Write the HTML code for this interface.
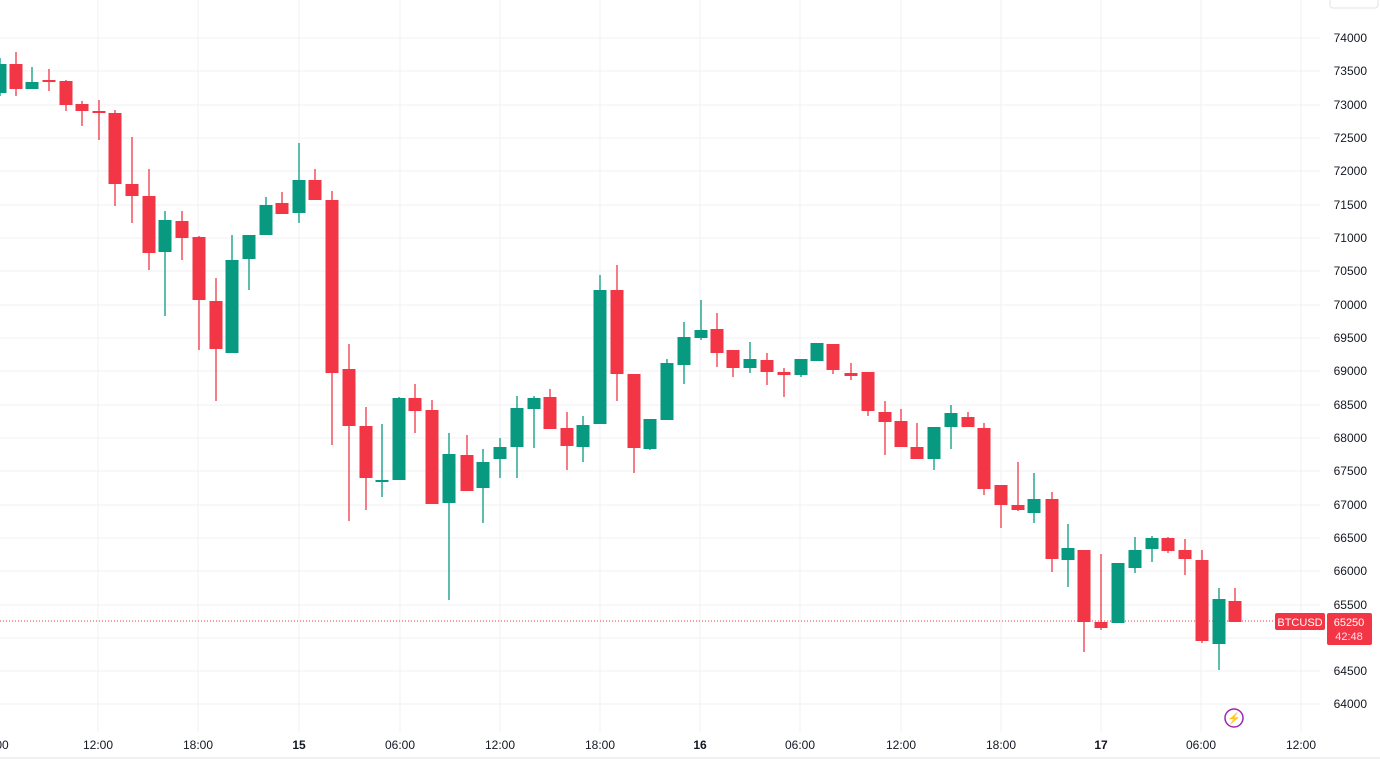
<!DOCTYPE html>
<html><head><meta charset="utf-8"><style>
html,body{margin:0;padding:0;background:#fff;}
svg{display:block;font-family:"Liberation Sans",sans-serif;}
</style></head><body>
<svg width="1380" height="775" viewBox="0 0 1380 775" xmlns="http://www.w3.org/2000/svg">
<rect width="1380" height="775" fill="#fff"/>
<g stroke="#f0f2f6" stroke-width="1">
<line x1="0" y1="38" x2="1320" y2="38"/><line x1="0" y1="71" x2="1320" y2="71"/><line x1="0" y1="105" x2="1320" y2="105"/><line x1="0" y1="138" x2="1320" y2="138"/><line x1="0" y1="171" x2="1320" y2="171"/><line x1="0" y1="205" x2="1320" y2="205"/><line x1="0" y1="238" x2="1320" y2="238"/><line x1="0" y1="271" x2="1320" y2="271"/><line x1="0" y1="305" x2="1320" y2="305"/><line x1="0" y1="338" x2="1320" y2="338"/><line x1="0" y1="371" x2="1320" y2="371"/><line x1="0" y1="405" x2="1320" y2="405"/><line x1="0" y1="438" x2="1320" y2="438"/><line x1="0" y1="471" x2="1320" y2="471"/><line x1="0" y1="505" x2="1320" y2="505"/><line x1="0" y1="538" x2="1320" y2="538"/><line x1="0" y1="571" x2="1320" y2="571"/><line x1="0" y1="605" x2="1320" y2="605"/><line x1="0" y1="638" x2="1320" y2="638"/><line x1="0" y1="671" x2="1320" y2="671"/><line x1="0" y1="704" x2="1320" y2="704"/>
<line x1="98" y1="0" x2="98" y2="732"/><line x1="198" y1="0" x2="198" y2="732"/><line x1="299" y1="0" x2="299" y2="732"/><line x1="400" y1="0" x2="400" y2="732"/><line x1="500" y1="0" x2="500" y2="732"/><line x1="600" y1="0" x2="600" y2="732"/><line x1="700" y1="0" x2="700" y2="732"/><line x1="800" y1="0" x2="800" y2="732"/><line x1="901" y1="0" x2="901" y2="732"/><line x1="1001" y1="0" x2="1001" y2="732"/><line x1="1101" y1="0" x2="1101" y2="732"/><line x1="1201" y1="0" x2="1201" y2="732"/><line x1="1301" y1="0" x2="1301" y2="732"/>
</g>
<line x1="0" y1="758" x2="1380" y2="758" stroke="#e0e3eb"/>
<rect x="1330" y="-4" width="48" height="12" rx="3" fill="#fff" stroke="#e0e3eb"/>
<line x1="0" y1="621" x2="1275" y2="621" stroke="#F23645" stroke-width="1" stroke-dasharray="1,2"/>
<g id="c"></g>
<g font-size="12" fill="#131722" text-anchor="end">
<text x="1367" y="42">74000</text><text x="1367" y="75">73500</text><text x="1367" y="109">73000</text><text x="1367" y="142">72500</text><text x="1367" y="175">72000</text><text x="1367" y="209">71500</text><text x="1367" y="242">71000</text><text x="1367" y="275">70500</text><text x="1367" y="309">70000</text><text x="1367" y="342">69500</text><text x="1367" y="375">69000</text><text x="1367" y="409">68500</text><text x="1367" y="442">68000</text><text x="1367" y="475">67500</text><text x="1367" y="509">67000</text><text x="1367" y="542">66500</text><text x="1367" y="575">66000</text><text x="1367" y="609">65500</text><text x="1367" y="675">64500</text><text x="1367" y="708">64000</text>
</g>
<g font-size="12" fill="#131722" text-anchor="middle">
<text x="2" y="749">00</text><text x="98" y="749">12:00</text><text x="198" y="749">18:00</text><text x="299" y="749" font-weight="bold">15</text><text x="400" y="749">06:00</text><text x="500" y="749">12:00</text><text x="600" y="749">18:00</text><text x="700" y="749" font-weight="bold">16</text><text x="800" y="749">06:00</text><text x="901" y="749">12:00</text><text x="1001" y="749">18:00</text><text x="1101" y="749" font-weight="bold">17</text><text x="1201" y="749">06:00</text><text x="1301" y="749">12:00</text>
</g>
<rect x="1275" y="613" width="50" height="17" rx="2" fill="#F23645"/>
<text x="1300" y="626" font-size="11" fill="#fff" text-anchor="middle">BTCUSD</text>
<rect x="1327" y="613" width="45" height="32" rx="2" fill="#F23645"/>
<text x="1349" y="626" font-size="11" fill="#fff" text-anchor="middle">65250</text>
<text x="1349" y="640" font-size="11" fill="#fde" text-anchor="middle">42:48</text>
<circle cx="1234" cy="718" r="9" fill="none" stroke="#9c27b0" stroke-width="1.5"/>
<text x="1234" y="722" font-size="11" fill="#9c27b0" text-anchor="middle">⚡</text>
</svg>
<script>
var G="#089981",R="#F23645";
var d=[
[0,G,58,96,64,93],[16,R,52,96,64,89],[32,G,67,89,82,89],[49,R,69,91,80,82],[66,R,80,111,81,105],[82,R,101,126,104,111],[99,R,100,140,111,113],[115,R,110,206,113,184],[132,R,137,223,184,196],[149,R,169,270,196,253],[165,G,211,316,220,252],[182,R,211,260,221,238],[199,R,236,350,237,300],[216,R,278,401,301,349],[232,G,235,353,260,353],[249,G,235,290,235,259],[266,G,197,235,205,235],[282,R,192,214,203,214],[299,G,143,223,180,213],[315,R,169,200,180,200],[332,R,191,445,200,373],[349,R,344,521,369,426],[366,R,407,510,426,478],[382,G,424,497,480,482],[399,G,397,480,398,480],[415,R,384,433,398,411],[432,R,400,504,410,504],[449,G,433,600,454,503],[467,R,435,491,455,491],[483,G,449,523,462,488],[500,G,438,478,447,459],[517,G,396,478,408,447],[534,G,396,448,398,409],[550,R,389,429,397,429],[567,R,412,470,428,446],[583,G,416,462,425,447],[600,G,275,424,290,424],[617,R,265,401,290,374],[634,R,374,473,374,448],[650,G,419,450,419,449],[667,G,359,420,363,420],[684,G,322,384,337,365],[701,G,300,340,330,338],[717,R,313,367,329,353],[733,R,350,377,350,368],[750,G,342,373,359,368],[767,R,353,385,360,372],[784,R,368,397,372,375],[801,G,359,377,359,375],[817,G,343,361,343,361],[833,R,344,374,344,370],[851,R,363,380,373,376],[868,R,372,416,372,411],[885,R,401,455,412,422],[901,R,409,447,421,447],[917,R,423,459,447,459],[934,G,427,470,427,459],[951,G,405,449,413,427],[968,R,412,427,417,427],[984,R,423,495,428,489],[1001,R,485,528,485,505],[1018,R,462,511,505,510],[1034,G,473,523,499,513],[1052,R,492,572,499,559],[1068,G,524,587,548,560],[1084,R,550,652,550,622],[1101,R,554,630,622,628],[1118,G,563,623,563,623],[1135,G,537,573,550,568],[1152,G,536,562,538,549],[1168,R,537,553,538,551],[1185,R,539,575,550,559],[1202,R,550,643,560,641],[1219,G,588,670,599,644],[1235,R,588,622,601,622]];
var s="";
d.forEach(function(c){s+='<line x1="'+c[0]+'" y1="'+c[2]+'" x2="'+c[0]+'" y2="'+c[3]+'" stroke="'+c[1]+'" stroke-width="1.3"/>';var h=Math.max(2,c[5]-c[4]);s+='<rect x="'+(c[0]-6.5)+'" y="'+c[4]+'" width="13" height="'+h+'" fill="'+c[1]+'"/>';});
document.getElementById("c").innerHTML=s;
</script>
</body></html>
